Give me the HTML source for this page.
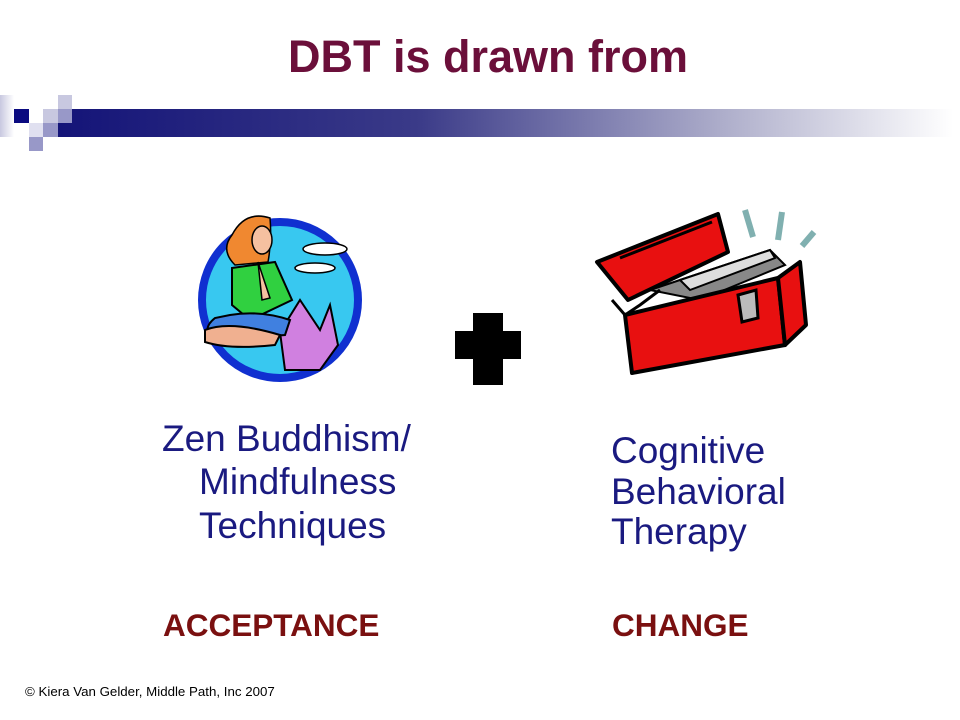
<!DOCTYPE html>
<html><head><meta charset="utf-8"><style>
body{margin:0;width:960px;height:720px;background:#fff;position:relative;overflow:hidden;font-family:"Liberation Sans",Arial,sans-serif}
.t{position:absolute;white-space:nowrap}
</style></head><body>
<div class="t" style="left:0;width:976px;top:31px;text-align:center;font-size:45px;font-weight:bold;color:#6b0f3a">DBT is drawn from</div>
<svg style="position:absolute;left:0;top:0" width="960" height="720">
<defs>
<linearGradient id="g" x1="0" x2="1"><stop offset="0" stop-color="#141478"/><stop offset="0.4" stop-color="#3a3a88"/><stop offset="0.75" stop-color="#b0b0cc"/><stop offset="1" stop-color="#fff"/></linearGradient>
<linearGradient id="g2" x1="0" x2="1"><stop offset="0" stop-color="#c8c8e0"/><stop offset="1" stop-color="#fff"/></linearGradient>
</defs>
<rect x="58" y="109" width="895" height="28" fill="url(#g)"/>
<rect x="0" y="95" width="14" height="42" fill="url(#g2)"/>
<rect x="14" y="109" width="15" height="14" fill="#0a0a80"/>
<rect x="58" y="95" width="14" height="14" fill="#c8c8e0"/>
<rect x="43" y="109" width="15" height="14" fill="#c8c8e0"/>
<rect x="58" y="109" width="14" height="14" fill="#9898c8"/>
<rect x="43" y="123" width="15" height="14" fill="#9898c8"/>
<rect x="29" y="123" width="14" height="14" fill="#e0e0f0"/>
<rect x="29" y="137" width="14" height="14" fill="#9898c8"/>
<circle cx="280" cy="300" r="78" fill="#38c8f0" stroke="#1030d0" stroke-width="8"/>
<ellipse cx="325" cy="249" rx="22" ry="6" fill="#fff" stroke="#000" stroke-width="1.5"/>
<ellipse cx="315" cy="268" rx="20" ry="5" fill="#fff" stroke="#000" stroke-width="1.5"/>
<path d="M280 332 L300 300 L320 330 L330 305 L338 345 L320 370 L285 370 Z" fill="#d080e0" stroke="#000" stroke-width="2"/>
<path d="M232 268 L275 262 L292 300 L250 320 L232 305 Z" fill="#30d040" stroke="#000" stroke-width="2"/>
<path d="M230 315 Q260 310 290 320 L285 335 L215 340 Q200 330 215 318 Z" fill="#4080e0" stroke="#000" stroke-width="2"/>
<path d="M205 330 Q230 320 280 335 L275 345 Q230 350 205 342 Z" fill="#f0b090" stroke="#000" stroke-width="2"/>
<path d="M232 235 Q245 210 270 218 Q272 240 268 262 L235 265 Q220 250 232 235 Z" fill="#f08830" stroke="#000" stroke-width="1.5"/>
<ellipse cx="262" cy="240" rx="10" ry="14" fill="#f5c0a0" stroke="#000" stroke-width="1.5"/>
<path d="M258 262 L262 300 L270 298 Z" fill="#f5c0a0" stroke="#000" stroke-width="1.5"/>
<path d="M473 313 H503 V331 H521 V359 H503 V385 H473 V359 H455 V331 H473 Z" fill="#000"/>
<path d="M597 262 L718 214 L728 252 L628 300 Z" fill="#e81010" stroke="#000" stroke-width="4" stroke-linejoin="round"/>
<path d="M620 258 L712 222" stroke="#000" stroke-width="3"/>
<path d="M650 290 L770 250 L785 265 L700 300 Z" fill="#888" stroke="#000" stroke-width="2"/>
<path d="M680 280 L770 250 L775 258 L690 290 Z" fill="#ddd" stroke="#000" stroke-width="2"/>
<path d="M688 305 L705 298 L702 312 Z" fill="#20c0b0"/>
<path d="M725 300 L745 290 L742 305 Z" fill="#7050e0"/>
<path d="M625 315 L778 278 L785 345 L632 373 Z" fill="#e81010" stroke="#000" stroke-width="4" stroke-linejoin="round"/>
<path d="M778 278 L800 262 L806 325 L785 345 Z" fill="#e81010" stroke="#000" stroke-width="4" stroke-linejoin="round"/>
<path d="M612 300 L625 315 L640 305 L660 290" fill="none" stroke="#000" stroke-width="3"/>
<path d="M738 295 L756 290 L758 318 L742 322 Z" fill="#bbb" stroke="#000" stroke-width="3"/>
<path d="M745 210 L753 237" stroke="#80b0b0" stroke-width="6"/>
<path d="M782 212 L778 240" stroke="#80b0b0" stroke-width="6"/>
<path d="M814 232 L802 246" stroke="#80b0b0" stroke-width="6"/>
</svg>
<div class="t" style="left:162px;top:417px;font-size:37px;line-height:43.5px;color:#1a1a80">Zen Buddhism/</div>
<div class="t" style="left:199px;top:460px;font-size:37px;line-height:43.5px;color:#1a1a80">Mindfulness<br>Techniques</div>
<div class="t" style="left:611px;top:431px;font-size:37px;line-height:40.5px;color:#1a1a80">Cognitive<br>Behavioral<br>Therapy</div>
<div class="t" style="left:163px;top:607px;font-size:31.5px;font-weight:bold;color:#7a1010">ACCEPTANCE</div>
<div class="t" style="left:612px;top:607px;font-size:31.5px;font-weight:bold;color:#7a1010">CHANGE</div>
<div class="t" style="left:25px;top:684px;font-size:13.3px;color:#000">© Kiera Van Gelder, Middle Path, Inc 2007</div>
</body></html>
